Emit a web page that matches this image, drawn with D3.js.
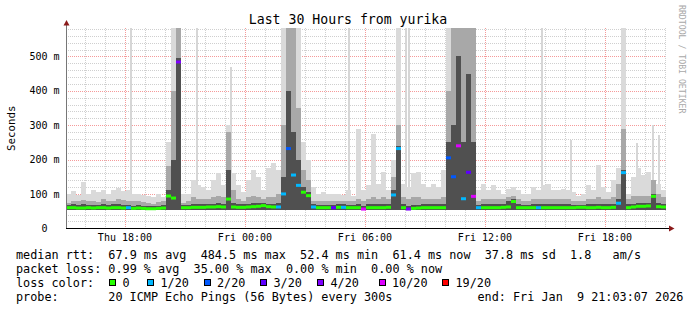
<!DOCTYPE html>
<html>
<head>
<meta charset="utf-8">
<script src="https://cdn.jsdelivr.net/npm/d3@7"></script>
<style>
  body { margin: 0; background: #fff; }
  svg text { font-family: "DejaVu Sans Mono", monospace; white-space: pre; }
</style>
</head>
<body>
<div id="chart"></div>
<script>
// Smokeping style latency chart, 30 hours, 15 minute buckets

var startTime = new Date(2026, 0, 8, 15, 3, 7);
var endTime = new Date(2026, 0, 9, 21, 3, 7);
var BUCKET_MIN = 15;
var SPIKE_MIN = 6; // width of a single outlier column

// median rtt per bucket (ms)
var median = [
  60,60,59,59,60,59,60,60,59,60,60,59,60,58,59,58,57,57,58,59,
  94,88,484,60,60,61,61,61,62,62,63,62,85,62,61,61,62,63,64,66,
  63,62,62,100,232,155,125,105,95,62,60,60,60,60,61,61,60,60,60,56,
  60,60,60,60,61,97,232,60,56,58,59,60,60,60,60,60,205,150,240,86,
  163,93,60,60,60,60,60,61,62,78,60,60,60,60,60,60,60,60,60,60,
  60,60,61,61,60,60,61,60,60,61,73,162,60,62,64,64,65,93,63,62
];
// loss class per bucket, index into lossLabels
var loss = [
  0,0,0,0,0,0,0,0,0,0,0,0,1,0,0,0,0,0,0,0,
  0,0,4,0,0,0,0,0,0,0,0,0,0,0,0,0,0,0,0,0,
  0,0,1,1,2,1,1,0,0,1,0,0,0,3,0,1,0,0,0,5,
  0,0,0,0,0,1,1,0,4,0,0,0,0,0,0,0,2,2,5,1,
  3,5,1,0,0,0,0,0,0,0,0,0,0,0,1,0,0,0,0,0,
  0,0,0,0,0,0,0,0,0,0,1,1,0,0,0,0,0,0,0,0
];
// top of the light smoke (slowest ping)
var smokeMax = [
  100,108,97,136,100,110,105,112,100,110,118,108,110,100,100,97,95,92,100,90,
  250,582,582,100,100,140,126,120,110,140,160,125,300,160,125,105,140,170,150,110,
  175,190,170,582,582,582,582,250,200,120,100,105,100,100,100,97,110,95,290,110,
  125,275,130,165,110,200,582,130,120,160,165,130,120,130,120,170,582,582,582,582,
  582,582,110,130,110,125,110,100,115,120,110,100,100,121,110,125,130,110,110,115,
  110,105,95,100,126,110,184,120,105,140,175,582,100,150,175,155,165,140,130,110
];
// top of the medium smoke
var smokeMid = [
  75,78,80,82,78,80,76,85,78,80,84,82,78,80,78,76,74,72,76,78,
  180,400,582,75,78,90,85,85,85,90,95,90,280,110,85,80,90,95,90,85,
  90,90,100,300,582,582,350,170,140,80,78,80,80,80,80,78,80,78,85,80,
  85,90,85,90,85,150,300,90,85,90,90,85,85,85,85,90,400,582,582,582,
  582,582,80,85,85,85,85,85,90,95,85,80,80,85,85,85,85,85,85,85,
  85,80,78,80,85,85,90,85,85,90,130,290,85,95,95,95,95,140,100,90
];
// top of the dense smoke
var smokeDark = [
  68,70,68,70,68,68,68,72,68,70,72,68,68,66,68,66,65,65,66,68,
  110,200,495,68,68,70,70,70,72,72,74,72,170,75,70,70,72,74,74,75,
  72,72,75,150,400,280,200,120,105,70,68,68,68,68,70,70,68,68,70,66,
  70,70,70,72,70,110,240,70,66,68,68,70,70,70,70,72,250,300,500,250,
  450,250,68,70,70,70,70,70,80,85,70,68,68,70,70,70,70,70,70,70,
  70,68,68,68,70,70,72,70,70,72,85,170,70,72,74,74,75,100,74,72
];
var smokeFloor = 54;

// single slow outlier pings
var spikeTimes = [
  "2026-01-08 18:16", "2026-01-08 20:20", "2026-01-08 21:33", "2026-01-08 23:14",
  "2026-01-09 02:37", "2026-01-09 05:09", "2026-01-09 08:00", "2026-01-09 08:09",
  "2026-01-09 14:47", "2026-01-09 16:15", "2026-01-09 19:32", "2026-01-09 20:21",
  "2026-01-09 20:38"
];
var spikeMax = [582, 410, 582, 470, 330, 582, 582, 582, 582, 257, 247, 300, 272];

var lossLabels = ["0", "1/20", "2/20", "3/20", "4/20", "10/20", "19/20"];
var lossColors = ["#26ff00", "#00b8ff", "#0059ff", "#5e00ff", "#7e00ff", "#dd00ff", "#ff0000"];

var yTicks = [0, 100, 200, 300, 400, 500];
var legendRows = [
  "median rtt:  67.9 ms avg  484.5 ms max  52.4 ms min  61.4 ms now  37.8 ms sd  1.8   am/s",
  "packet loss: 0.99 % avg  35.00 % max  0.00 % min  0.00 % now"
];
var probeText = "20 ICMP Echo Pings (56 Bytes) every 300s";
var endText = "end: Fri Jan  9 21:03:07 2026";

var W = 697, H = 310;
var PX0 = 66, PX1 = 666, PY0 = 228.3, PY1 = 28.3;
var CH = 7.1; // legend char advance

var svg = d3.select("#chart").append("svg")
  .attr("width", W).attr("height", H);
svg.append("rect").attr("width", W).attr("height", H).attr("fill", "#fff");

var x = d3.scaleTime().domain([startTime, endTime]).range([PX0, PX1]);
var y = d3.scaleLinear().domain([0, 582]).range([PY0, PY1]);
var parse = d3.timeParse("%Y-%m-%d %H:%M");

var rows = median.map(function(m, i) {
  return {
    t0: new Date(+startTime + i * BUCKET_MIN * 60000),
    t1: new Date(+startTime + (i + 1) * BUCKET_MIN * 60000),
    med: m, loss: loss[i], max: smokeMax[i], mid: smokeMid[i], dark: smokeDark[i]
  };
});
var spikes = spikeTimes.map(function(s, i) {
  var t = parse(s);
  return {t0: t, t1: new Date(+t + SPIKE_MIN * 60000), max: spikeMax[i]};
});

// grid
var grid = svg.append("g").attr("shape-rendering", "crispEdges");
var hours = d3.timeHour.range(startTime, endTime);
hours.forEach(function(h) {
  var major = h.getHours() % 6 == 0;
  var xx = Math.round(x(h)) + 0.5;
  grid.append("line")
    .attr("x1", xx).attr("x2", xx).attr("y1", PY1).attr("y2", PY0)
    .attr("stroke", major ? "#f59a9a" : "#cfcfcf")
    .attr("stroke-dasharray", "1,1");
});
d3.range(20, 582, 20).forEach(function(v) {
  var major = v % 100 == 0;
  var yy = Math.round(y(v)) + 0.5;
  grid.append("line")
    .attr("x1", PX0).attr("x2", PX1).attr("y1", yy).attr("y2", yy)
    .attr("stroke", major ? "#f59a9a" : "#cfcfcf")
    .attr("stroke-dasharray", "1,1");
});

// smoke
var smoke = svg.append("g").attr("shape-rendering", "crispEdges");
smoke.selectAll(".spike")
  .data(spikes)
  .enter()
  .append("rect")
  .attr("class", "spike")
  .attr("x", function(d) { return Math.round(x(d.t0)); })
  .attr("width", function(d) { return Math.max(2, Math.round(x(d.t1) - x(d.t0))); })
  .attr("y", function(d) { return y(d.max); })
  .attr("height", function(d) { return y(smokeFloor) - y(d.max); })
  .attr("fill", "#d6d6d6");

var bands = [
  {key: "max", color: "#dadada"},
  {key: "mid", color: "#a8a8a8"},
  {key: "dark", color: "#505050"}
];
bands.forEach(function(b) {
  smoke.selectAll(".s-" + b.key)
    .data(rows)
    .enter()
    .append("rect")
    .attr("class", "s-" + b.key)
    .attr("x", function(d) { return x(d.t0); })
    .attr("width", function(d) { return x(d.t1) - x(d.t0); })
    .attr("y", function(d) { return y(d[b.key]); })
    .attr("height", function(d) { return Math.max(0, y(smokeFloor) - y(d[b.key])); })
    .attr("fill", b.color);
});

// median
svg.append("g").selectAll("line")
  .data(rows)
  .enter()
  .append("line")
  .attr("x1", function(d) { return x(d.t0); })
  .attr("x2", function(d) { return x(d.t1); })
  .attr("y1", function(d) { return y(d.med); })
  .attr("y2", function(d) { return y(d.med); })
  .attr("stroke", function(d) { return lossColors[d.loss]; })
  .attr("stroke-width", 3);

// axes
svg.append("line")
  .attr("x1", PX0 + 0.5).attr("x2", PX0 + 0.5).attr("y1", PY0).attr("y2", 24)
  .attr("stroke", "#777").attr("shape-rendering", "crispEdges");
svg.append("line")
  .attr("x1", PX0).attr("x2", 670).attr("y1", Math.round(PY0) + 0.5).attr("y2", Math.round(PY0) + 0.5)
  .attr("stroke", "#000").attr("shape-rendering", "crispEdges");
svg.append("path").attr("d", "M63.5,25.5L69.5,25.5L66.5,20Z").attr("fill", "#8b1a1a");
svg.append("path").attr("d", "M669,225.5L669,231.5L674.5,228.5Z").attr("fill", "#8b1a1a");

// y labels
svg.append("g").selectAll("text")
  .data(yTicks)
  .enter()
  .append("text")
  .attr("x", function(d) { return d == 0 ? 47.5 : 59.5; })
  .attr("y", function(d) { return y(d) + 3.6; })
  .attr("text-anchor", "end")
  .attr("font-size", "10px")
  .text(function(d) { return d == 0 ? "0" : d + " m"; });

// x labels
var fmt = d3.timeFormat("%a %H:%M");
svg.append("g").selectAll("text")
  .data(hours.filter(function(h) { return h.getHours() % 6 == 0; }))
  .enter()
  .append("text")
  .attr("x", function(d) { return x(d); })
  .attr("y", 241)
  .attr("text-anchor", "middle")
  .attr("font-size", "10px")
  .text(function(d) { return fmt(d); });

// titles
svg.append("text")
  .attr("x", 348).attr("y", 24)
  .attr("text-anchor", "middle")
  .attr("font-size", "13.2px")
  .text("Last 30 Hours from yurika");
svg.append("text")
  .attr("transform", "translate(15," + ((PY0 + PY1) / 2) + ") rotate(-90)")
  .attr("text-anchor", "middle")
  .attr("font-size", "10.8px")
  .text("Seconds");
svg.append("text")
  .attr("transform", "translate(678.5,5) rotate(90)")
  .attr("font-size", "8.2px")
  .attr("fill", "#a8a8a8")
  .text("RRDTOOL / TOBI OETIKER");

// legend
var leg = svg.append("g").attr("font-size", "11.8px");
legendRows.forEach(function(s, i) {
  leg.append("text").attr("x", 16).attr("y", 258.5 + i * 14).text(s);
});
leg.append("text").attr("x", 16).attr("y", 286.5).text("loss color:");
var boxX = [109, 147, 203.5, 260, 317, 378.5, 442];
lossLabels.forEach(function(l, i) {
  leg.append("rect")
    .attr("x", boxX[i] + 0.5).attr("y", 279.5)
    .attr("width", 6).attr("height", 6)
    .attr("fill", lossColors[i]).attr("stroke", "#000")
    .attr("shape-rendering", "crispEdges");
  leg.append("text").attr("x", boxX[i] + 13.5).attr("y", 286.5).text(l);
});
leg.append("text").attr("x", 16).attr("y", 300.5).text("probe:");
leg.append("text").attr("x", 16 + 13 * CH).attr("y", 300.5).text(probeText);
leg.append("text").attr("x", 16 + 65 * CH).attr("y", 300.5).text(endText);
</script>
</body>
</html>
